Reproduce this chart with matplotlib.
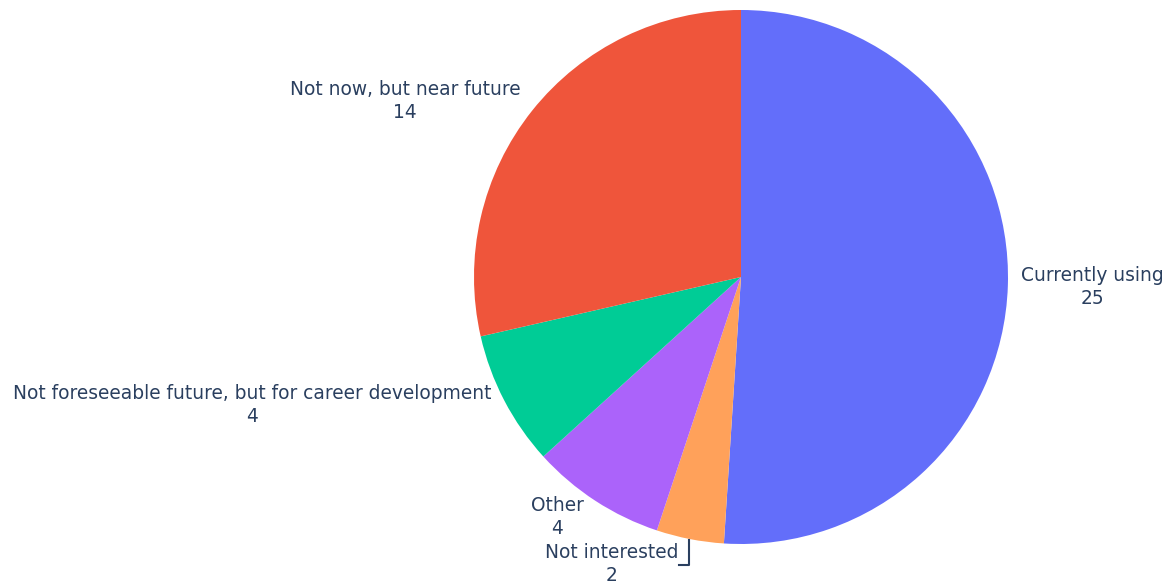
import matplotlib.pyplot as plt

# Data
labels = ["Currently using", "Not interested", "Other",
          "Not foreseeable future, but for career development",
          "Not now, but near future"]
values = [25, 2, 4, 4, 14]
colors = ["#636EFA", "#FFA15A", "#AB63FA", "#00CC96", "#EF553B"]

# label block centres in pixel coords (x, y from top)
label_pos = [(1092, 287), (612, 564), (557, 517), (252, 405), (405, 101)]

W, H = 1169, 584
fig = plt.figure(figsize=(W / 100, H / 100), dpi=100)
ax = fig.add_axes([0, 0, 1, 1])

ax.pie(values, colors=colors, startangle=90, counterclock=False,
       center=(741, H - 277), radius=267, frame=True,
       wedgeprops=dict(linewidth=0))
ax.set_xlim(0, W)
ax.set_ylim(0, H)
ax.set_aspect("equal")
ax.axis("off")

txt_color = "#2a3f5f"
for lab, val, (x, y) in zip(labels, values, label_pos):
    ax.text(x, H - y, f"{lab}\n{val}", ha="center", va="center",
            multialignment="center", fontsize=13.4, color=txt_color,
            linespacing=1.3, family="DejaVu Sans")

# leader line for the small slice
ax.plot([689, 689, 679], [H - 540, H - 565, H - 565], color=txt_color, lw=1.5)

fig.savefig("out.png", dpi=100, facecolor="white")
